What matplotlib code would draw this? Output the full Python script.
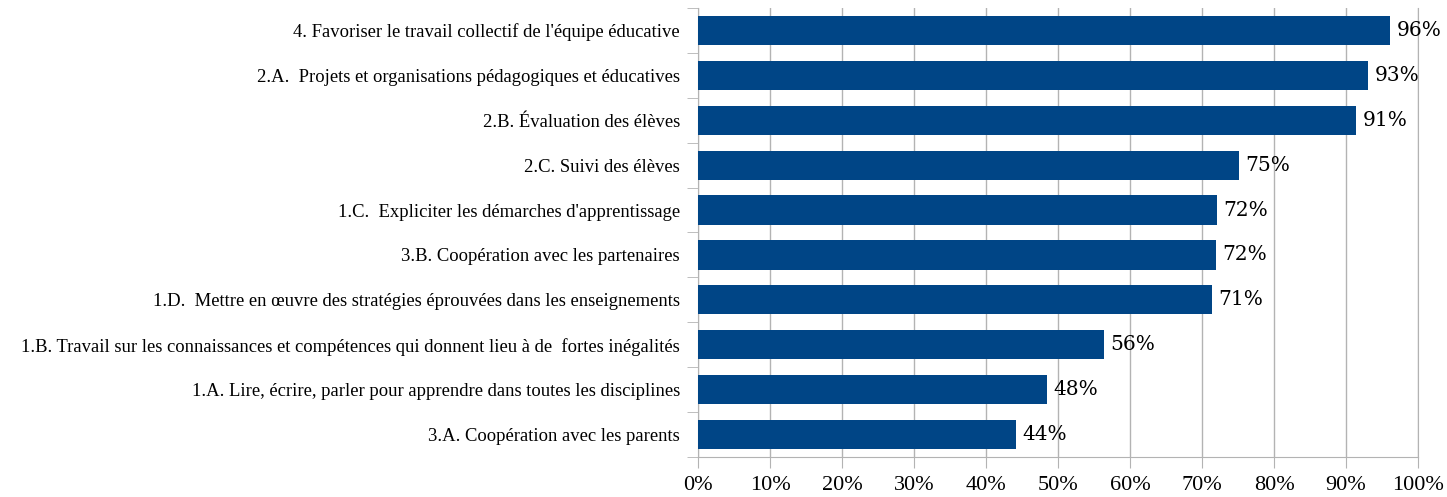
import matplotlib.pyplot as plt
from matplotlib.ticker import FuncFormatter

categories = [
    "4. Favoriser le travail collectif de l'équipe éducative",
    "2.A.  Projets et organisations pédagogiques et éducatives",
    "2.B. Évaluation des élèves",
    "2.C. Suivi des élèves",
    "1.C.  Expliciter les démarches d'apprentissage",
    "3.B. Coopération avec les partenaires",
    "1.D.  Mettre en œuvre des stratégies éprouvées dans les enseignements",
    "1.B. Travail sur les connaissances et compétences qui donnent lieu à de  fortes inégalités",
    "1.A. Lire, écrire, parler pour apprendre dans toutes les disciplines",
    "3.A. Coopération avec les parents",
]
values = [96.1, 93.1, 91.4, 75.1, 72.1, 71.9, 71.4, 56.4, 48.4, 44.2]
xticks = [0, 10, 20, 30, 40, 50, 60, 70, 80, 90, 100]

bar_color = '#004586'
grid_color = '#b3b3b3'

fig = plt.figure(figsize=(14.47, 4.97), dpi=100)
ax = fig.add_axes([0.4824, 0.0805, 0.4976, 0.9035])

ypos = list(range(len(categories)))[::-1]
ax.barh(ypos, values, height=0.65, color=bar_color, zorder=3)

# value labels at the end of each bar
for y, v in zip(ypos, values):
    ax.text(v + 0.9, y, f'{round(v)}%', va='center', ha='left',
            fontsize=14.5, family='DejaVu Serif', color='black')

ax.set_xlim(0, 100)
ax.set_ylim(-0.5, len(categories) - 0.5)
ax.set_xticks(xticks)
ax.xaxis.set_major_formatter(FuncFormatter(lambda x, p: f'{x:.0f}%'))
ax.set_yticks(ypos)
ax.set_yticklabels(categories, family='Liberation Serif', fontsize=13.4)
ax.set_yticks([y + 0.5 for y in range(-1, len(categories))], minor=True)
for lbl in ax.get_xticklabels():
    lbl.set_family('Liberation Serif')
    lbl.set_fontsize(16)

ax.tick_params(axis='y', which='major', length=0, pad=13)
ax.tick_params(axis='y', which='minor', length=8, color=grid_color)
ax.tick_params(axis='x', length=8, color=grid_color, pad=6)

ax.grid(axis='x', color=grid_color, linewidth=1, zorder=0)
ax.spines['top'].set_visible(False)
for side in ['left', 'bottom', 'right']:
    ax.spines[side].set_color(grid_color)

fig.savefig('out.png', dpi=100)
